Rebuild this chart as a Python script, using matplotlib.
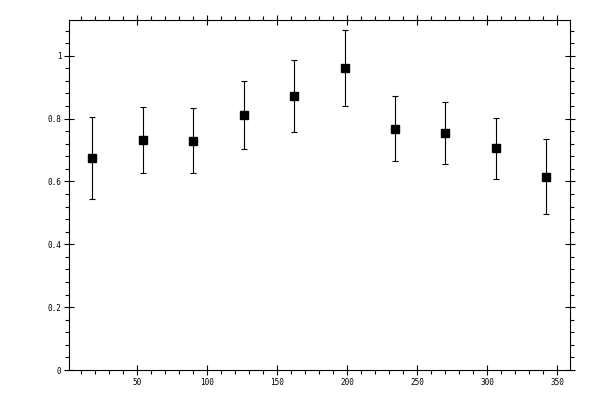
import matplotlib
matplotlib.use('Agg')
import matplotlib.pyplot as plt
from matplotlib.ticker import MultipleLocator, FormatStrFormatter

# angle bins and measured values with their errors
x = [18, 54, 90, 126, 162, 198, 234, 270, 306, 342]
y = [0.675, 0.732, 0.730, 0.812, 0.873, 0.962, 0.768, 0.755, 0.705, 0.615]
yerr = [0.131, 0.104, 0.104, 0.108, 0.115, 0.121, 0.103, 0.098, 0.097, 0.120]

plt.rcParams['font.family'] = 'DejaVu Sans Mono'
plt.rcParams['font.size'] = 5.5

fig = plt.figure(figsize=(6, 4), dpi=100)
ax = fig.add_axes([0.1158, 0.075, 0.8342, 0.876])

ax.errorbar(x, y, yerr=yerr, fmt='s', color='black', markersize=5.5,
            elinewidth=0.8, capsize=2, capthick=0.8)

ax.set_xlim(1.6, 359)
ax.set_ylim(0, 1.115)

ax.xaxis.set_major_locator(MultipleLocator(50))
ax.xaxis.set_minor_locator(MultipleLocator(10))
ax.yaxis.set_major_locator(MultipleLocator(0.2))
ax.yaxis.set_minor_locator(MultipleLocator(0.04))
ax.xaxis.set_major_formatter(FormatStrFormatter('%g'))
ax.yaxis.set_major_formatter(FormatStrFormatter('%g'))

ax.tick_params(which='major', direction='inout', length=6.5, width=0.8,
               top=True, right=True, pad=2.5)
ax.tick_params(which='minor', direction='out', length=3, width=0.8,
               top=True, right=True)

for s in ax.spines.values():
    s.set_linewidth(0.8)

plt.savefig('out.png', dpi=100)
